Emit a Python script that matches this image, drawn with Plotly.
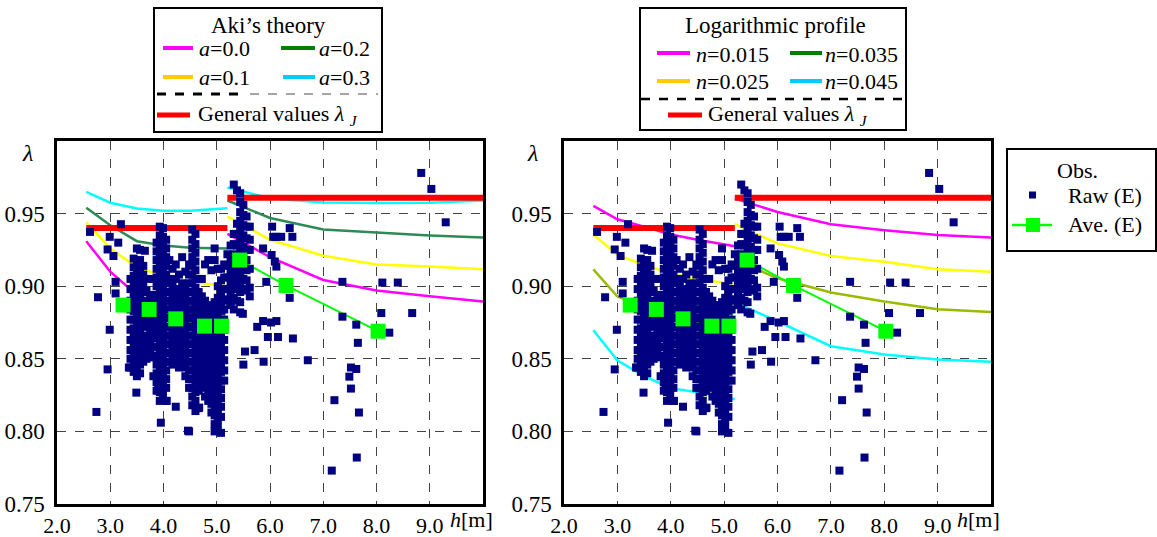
import plotly.graph_objects as go

W, H = 1157, 537
FONT = "serif"

# ---------------- theory curves (two branches each) ----------------
h_seg1 = [2.55, 3.0, 3.5, 4.0, 4.5, 5.2]
h_seg2 = [5.2, 6.0, 7.0, 8.0, 9.0, 10.0]

# Aki's theory
aki_a00_s1 = [0.931, 0.910, 0.894, 0.886, 0.881, 0.878]
aki_a00_s2 = [0.936, 0.920, 0.9043, 0.897, 0.893, 0.8895]
aki_a01_s1 = [0.944, 0.926, 0.913, 0.907, 0.903, 0.900]
aki_a01_s2 = [0.948, 0.932, 0.921, 0.915, 0.9135, 0.9116]
aki_a02_s1 = [0.954, 0.942, 0.931, 0.928, 0.9265, 0.926]
aki_a02_s2 = [0.959, 0.947, 0.939, 0.937, 0.935, 0.9336]
aki_a03_s1 = [0.965, 0.9575, 0.9535, 0.952, 0.952, 0.9537]
aki_a03_s2 = [0.968, 0.9605, 0.9577, 0.9573, 0.9575, 0.9591]

# Logarithmic profile
log_n015_s1 = [0.9553, 0.9461, 0.941, 0.9356, 0.932, 0.9275]
log_n015_s2 = [0.9603, 0.9511, 0.9427, 0.9386, 0.9352, 0.9336]
log_n025_s1 = [0.9356, 0.9215, 0.9146, 0.9089, 0.9048, 0.9016]
log_n025_s2 = [0.9427, 0.9295, 0.9208, 0.9169, 0.9116, 0.910]
log_n035_s1 = [0.9116, 0.8929, 0.886, 0.8826, 0.8804, 0.878]
log_n035_s2 = [0.918, 0.9055, 0.8957, 0.8895, 0.8842, 0.8822]
log_n045_s1 = [0.8696, 0.849, 0.838, 0.8298, 0.827, 0.8221]
log_n045_s2 = [0.889, 0.8758, 0.8587, 0.853, 0.8495, 0.8479]

# General values lambda_J
gen_h_s1 = [2.55, 5.2]
gen_lam_s1 = [0.940, 0.940]
gen_h_s2 = [5.2, 10.0]
gen_lam_s2 = [0.961, 0.961]

# ---------------- observations ----------------
ave_h = [3.24, 3.73, 4.23, 4.77, 5.09, 5.43, 6.30, 8.03]
ave_lam = [0.887, 0.884, 0.8775, 0.8725, 0.8725, 0.918, 0.9005, 0.869]

# dense raw observations, read column by column: (h, [lambda, ...])
raw_columns = [
    (3.38, [0.905, 0.898, 0.890, 0.884, 0.877, 0.870, 0.863, 0.856, 0.850, 0.844]),
    (3.44, [0.919, 0.913, 0.907, 0.901, 0.895, 0.889, 0.883, 0.877, 0.871, 0.865, 0.859, 0.853, 0.847, 0.841]),
    (3.50, [0.926, 0.916, 0.910, 0.904, 0.898, 0.892, 0.886, 0.880, 0.874, 0.868, 0.862, 0.856, 0.850, 0.844, 0.838]),
    (3.56, [0.925, 0.918, 0.912, 0.906, 0.900, 0.894, 0.888, 0.882, 0.876, 0.870, 0.864, 0.858, 0.852, 0.846, 0.840]),
    (3.62, [0.914, 0.908, 0.902, 0.896, 0.890, 0.884, 0.878, 0.872, 0.866, 0.860, 0.854, 0.848]),
    (3.68, [0.905, 0.897, 0.889, 0.881, 0.873, 0.865, 0.857, 0.850]),
    (3.75, [0.894, 0.886, 0.878, 0.870, 0.862, 0.854]),
    (3.81, [0.905, 0.890, 0.882, 0.874, 0.866, 0.858, 0.851, 0.838]),
    (3.87, [0.930, 0.924, 0.918, 0.912, 0.906, 0.900, 0.894, 0.888, 0.882, 0.876, 0.870, 0.864, 0.858, 0.852, 0.846, 0.840, 0.834, 0.828]),
    (3.93, [0.941, 0.935, 0.929, 0.923, 0.917, 0.911, 0.905, 0.899, 0.893, 0.887, 0.881, 0.875, 0.869, 0.863, 0.857, 0.851, 0.845, 0.839, 0.833, 0.827, 0.821]),
    (3.99, [0.940, 0.934, 0.928, 0.922, 0.916, 0.910, 0.904, 0.898, 0.892, 0.886, 0.880, 0.874, 0.868, 0.862, 0.856, 0.850, 0.844, 0.838, 0.832, 0.826]),
    (4.05, [0.932, 0.926, 0.920, 0.914, 0.908, 0.902, 0.896, 0.890, 0.884, 0.878, 0.872, 0.866, 0.860, 0.854, 0.848, 0.842, 0.836, 0.830, 0.821]),
    (4.11, [0.918, 0.905, 0.896, 0.890, 0.884, 0.878, 0.872, 0.866, 0.860, 0.854, 0.848]),
    (4.17, [0.912, 0.900, 0.894, 0.888, 0.882, 0.876, 0.870, 0.864, 0.858, 0.852, 0.846]),
    (4.23, [0.915, 0.905, 0.897, 0.891, 0.885, 0.879, 0.873, 0.867, 0.861, 0.855, 0.849, 0.817]),
    (4.29, [0.908, 0.898, 0.892, 0.886, 0.880, 0.874, 0.868, 0.862, 0.856, 0.850, 0.844]),
    (4.35, [0.920, 0.902, 0.895, 0.889, 0.883, 0.877, 0.871, 0.865, 0.859, 0.853, 0.847]),
    (4.41, [0.910, 0.899, 0.892, 0.886, 0.880, 0.874, 0.868, 0.862, 0.856, 0.850, 0.844, 0.838]),
    (4.48, [0.915, 0.908, 0.902, 0.896, 0.890, 0.884, 0.878, 0.872, 0.866, 0.860, 0.854, 0.848, 0.842, 0.836, 0.830, 0.800]),
    (4.54, [0.939, 0.932, 0.926, 0.920, 0.914, 0.908, 0.902, 0.896, 0.890, 0.884, 0.878, 0.872, 0.866, 0.860, 0.854, 0.848, 0.842, 0.836, 0.830, 0.824, 0.818]),
    (4.60, [0.936, 0.929, 0.923, 0.917, 0.911, 0.905, 0.899, 0.893, 0.887, 0.881, 0.875, 0.869, 0.863, 0.857, 0.851, 0.845, 0.839, 0.833, 0.827, 0.821, 0.814]),
    (4.66, [0.905, 0.896, 0.889, 0.882, 0.876, 0.870, 0.864, 0.858, 0.852, 0.846, 0.840, 0.834, 0.828, 0.816]),
    (4.72, [0.905, 0.893, 0.886, 0.880, 0.874, 0.868, 0.862, 0.856, 0.850, 0.844, 0.838, 0.832]),
    (4.78, [0.915, 0.890, 0.884, 0.878, 0.872, 0.866, 0.860, 0.854, 0.848, 0.842, 0.836, 0.830, 0.824]),
    (4.84, [0.918, 0.887, 0.881, 0.875, 0.869, 0.863, 0.857, 0.851, 0.845, 0.839, 0.833, 0.827, 0.821]),
    (4.90, [0.911, 0.885, 0.879, 0.873, 0.867, 0.861, 0.855, 0.849, 0.843, 0.837, 0.831, 0.825, 0.819, 0.813]),
    (4.96, [0.926, 0.918, 0.889, 0.883, 0.877, 0.871, 0.865, 0.859, 0.853, 0.847, 0.841, 0.835, 0.829, 0.823, 0.817, 0.811, 0.805, 0.800]),
    (5.02, [0.912, 0.900, 0.892, 0.886, 0.880, 0.874, 0.868, 0.862, 0.856, 0.850, 0.844, 0.838, 0.832, 0.826, 0.820, 0.814, 0.808, 0.803]),
    (5.08, [0.912, 0.904, 0.896, 0.889, 0.883, 0.877, 0.871, 0.865, 0.859, 0.853, 0.847, 0.841, 0.835, 0.829, 0.823, 0.817, 0.810, 0.799]),
    (5.14, [0.915, 0.906, 0.898, 0.891, 0.884, 0.877, 0.870, 0.863, 0.856, 0.849, 0.842, 0.835]),
    (5.20, [0.922, 0.914, 0.906, 0.898, 0.890]),
    (5.26, [0.928, 0.919, 0.911, 0.903, 0.895, 0.887]),
    (5.32, [0.970, 0.936, 0.929, 0.922, 0.915, 0.908, 0.900, 0.892, 0.884]),
    (5.38, [0.966, 0.943, 0.936, 0.928, 0.920, 0.912, 0.905, 0.898, 0.890]),
    (5.44, [0.964, 0.958, 0.951, 0.945, 0.938, 0.931, 0.924, 0.917, 0.910, 0.903, 0.896, 0.889, 0.882]),
    (5.50, [0.956, 0.949, 0.942, 0.935, 0.927, 0.920, 0.912, 0.905, 0.898]),
    (5.56, [0.948, 0.941, 0.933, 0.925, 0.918, 0.911, 0.904, 0.897]),
    (5.62, [0.941, 0.932, 0.925, 0.912, 0.899, 0.893]),
]

# isolated raw observations
raw_sparse = [
    (3.20, 0.9427), (2.62, 0.9374), (2.99, 0.934), (3.15, 0.930), (2.95, 0.9253),
    (3.06, 0.9208), (3.65, 0.9244), (3.10, 0.903), (3.10, 0.895),
    (2.77, 0.8924), (2.99, 0.870), (2.95, 0.8427), (3.35, 0.844), (3.49, 0.8267),
    (2.74, 0.8134), (3.95, 0.806), (3.90, 0.830), (4.06, 0.821), (4.46, 0.8005),
    (4.67, 0.8164), (5.49, 0.881), (5.53, 0.855), (5.71, 0.856), (5.50, 0.846),
    (5.88, 0.848), (5.76, 0.872), (5.87, 0.876),
    (5.87, 0.926), (6.04, 0.941), (6.12, 0.934), (6.21, 0.934), (6.37, 0.940),
    (6.42, 0.934), (6.06, 0.934), (6.03, 0.9215), (6.12, 0.9135), (6.09, 0.917),
    (5.93, 0.903), (6.37, 0.892), (7.36, 0.903), (8.11, 0.9025), (8.40, 0.9025),
    (8.09, 0.8815), (8.67, 0.8815), (7.36, 0.879), (7.62, 0.8735), (8.24, 0.868),
    (7.65, 0.861), (6.71, 0.849), (6.43, 0.864), (6.15, 0.865), (5.96, 0.865),
    (6.12, 0.876), (6.02, 0.875), (7.52, 0.844), (7.62, 0.843),
    (7.49, 0.8377), (7.52, 0.8295), (7.21, 0.8215), (7.67, 0.813), (7.16, 0.773),
    (7.63, 0.782), (8.84, 0.978), (9.03, 0.967), (9.30, 0.944),
]

raw_h = [h for h, lams in raw_columns for _ in lams] + [p[0] for p in raw_sparse]
raw_lam = [l for _, lams in raw_columns for l in lams] + [p[1] for p in raw_sparse]

# ---------------- figure ----------------
fig = go.Figure()

left_curves = [
    (aki_a00_s1, aki_a00_s2, "#ff00ff"),
    (aki_a01_s1, aki_a01_s2, "#ffff00"),
    (aki_a02_s1, aki_a02_s2, "#2e8b57"),
    (aki_a03_s1, aki_a03_s2, "#00ffff"),
]
right_curves = [
    (log_n015_s1, log_n015_s2, "#ff00ff"),
    (log_n025_s1, log_n025_s2, "#ffff00"),
    (log_n035_s1, log_n035_s2, "#99bb00"),
    (log_n045_s1, log_n045_s2, "#00ffff"),
]

for curves, xa, ya in [(left_curves, "x", "y"), (right_curves, "x2", "y2")]:
    for s1, s2, col in curves:
        for hh, ll in [(h_seg1, s1), (h_seg2, s2)]:
            fig.add_trace(go.Scatter(x=hh, y=ll, mode="lines", xaxis=xa, yaxis=ya,
                                     line=dict(color=col, width=2.5), showlegend=False,
                                     hoverinfo="skip"))
    for hh, ll in [(gen_h_s1, gen_lam_s1), (gen_h_s2, gen_lam_s2)]:
        fig.add_trace(go.Scatter(x=hh, y=ll, mode="lines", xaxis=xa, yaxis=ya,
                                 line=dict(color="#ff0000", width=6), showlegend=False))
    # averaged line sits beneath the raw points, its markers above them
    fig.add_trace(go.Scatter(x=ave_h, y=ave_lam, mode="lines", xaxis=xa, yaxis=ya,
                             line=dict(color="#00ff00", width=2), showlegend=False))
    fig.add_trace(go.Scatter(x=raw_h, y=raw_lam, mode="markers", xaxis=xa, yaxis=ya,
                             marker=dict(symbol="square", size=8, color="#000080",
                                         line=dict(width=0)), showlegend=False))
    fig.add_trace(go.Scatter(x=ave_h, y=ave_lam, mode="markers", xaxis=xa, yaxis=ya,
                             marker=dict(symbol="square", size=15, color="#00ff00",
                                         line=dict(width=0)), showlegend=False))


def X(px):
    return px / W


def Y(py):
    return 1 - py / H


axis_common = dict(showline=True, mirror=True, linecolor="black", linewidth=2.5,
                   showgrid=True, gridcolor="#444444", griddash="dash", gridwidth=1,
                   zeroline=False, ticks="", automargin=False)

xt = [2, 3, 4, 5, 6, 7, 8, 9]
xtt = ["2.0", "3.0", "4.0", "5.0", "6.0", "7.0", "8.0", "9.0"]
yt = [0.75, 0.80, 0.85, 0.90, 0.95]
ytt = ["0.75", "0.80", "0.85", "0.90", "0.95"]
xfont = dict(family=FONT, size=22, color="black")
yfont = dict(family=FONT, size=23, color="black")

fig.update_layout(
    width=W, height=H, margin=dict(l=0, r=0, t=0, b=0, autoexpand=False),
    paper_bgcolor="white", plot_bgcolor="white", showlegend=False,
    font=dict(family=FONT, color="black"),
    xaxis=dict(domain=[X(57), X(483)], range=[2, 10], tickvals=xt, ticktext=xtt,
               anchor="y", ticklabelstandoff=0, tickfont=xfont, **axis_common),
    yaxis=dict(domain=[Y(504), Y(141)], range=[0.75, 1.0], tickvals=yt, ticktext=ytt,
               anchor="x", ticklabelstandoff=5, tickfont=yfont, **axis_common),
    xaxis2=dict(domain=[X(564), X(991)], range=[2, 10], tickvals=xt, ticktext=xtt,
                anchor="y2", ticklabelstandoff=0, tickfont=xfont, **axis_common),
    yaxis2=dict(domain=[Y(504), Y(141)], range=[0.75, 1.0], tickvals=yt, ticktext=ytt,
                anchor="x2", ticklabelstandoff=5, tickfont=yfont, **axis_common),
)

shapes = []
annots = []


def txt(x, y, s, size=22, anchor="left"):
    annots.append(dict(x=X(x), y=Y(y), xref="paper", yref="paper", text=s, showarrow=False,
                       xanchor=anchor, yanchor="middle",
                       font=dict(family=FONT, size=size, color="black")))


def seg(x0, x1, y, col, w, dash="solid"):
    shapes.append(dict(type="line", xref="paper", yref="paper", x0=X(x0), x1=X(x1),
                       y0=Y(y), y1=Y(y), line=dict(color=col, width=w, dash=dash)))


def box(x0, y0, x1, y1):
    shapes.append(dict(type="rect", xref="paper", yref="paper", x0=X(x0), x1=X(x1),
                       y0=Y(y1), y1=Y(y0), line=dict(color="black", width=2),
                       fillcolor="white", layer="above"))


# axis titles
txt(27, 153, "<i>λ</i>", 24, "center")
txt(532, 153, "<i>λ</i>", 24, "center")
txt(471, 519, "<i>h</i>[m]", 22, "center")
txt(978, 519, "<i>h</i>[m]", 22, "center")

# Aki legend
box(154, 8, 382, 132)
txt(268, 25, "Aki’s theory", 23, "center")
seg(163, 193, 48, "#ff00ff", 4)
txt(197, 49, "<i>a</i>=0.0")
seg(281, 315, 48, "#008000", 4)
txt(317, 49, "<i>a</i>=0.2")
seg(163, 193, 77, "#ffcc00", 4)
txt(197, 77, "<i>a</i>=0.1")
seg(283, 315, 77, "#00ccff", 4)
txt(317, 77, "<i>a</i>=0.3")
seg(157, 247, 94, "black", 3, "dash")
seg(250, 378, 94, "#888888", 1.5, "dash")
seg(157, 190, 115, "#ff0000", 5)
txt(196, 115, "General values <i>λ</i> <sub><i>J</i></sub>")

# Logarithmic legend
box(640, 8, 906, 130)
txt(775, 25, "Logarithmic profile", 23, "center")
seg(657, 690, 53, "#ff00ff", 4)
txt(694, 54, "<i>n</i>=0.015")
seg(790, 822, 53, "#008000", 4)
txt(823, 54, "<i>n</i>=0.035")
seg(657, 690, 81, "#ffcc00", 4)
txt(694, 81, "<i>n</i>=0.025")
seg(790, 822, 81, "#00ccff", 4)
txt(823, 81, "<i>n</i>=0.045")
seg(641, 905, 99, "black", 2.5, "dash")
seg(668, 702, 115, "#ff0000", 5)
txt(706, 115, "General values <i>λ</i> <sub><i>J</i></sub>")

# Obs legend
box(1007, 149, 1156, 251)
txt(1077, 171, "Obs.", 22, "center")
shapes.append(dict(type="rect", xref="paper", yref="paper", x0=X(1029), x1=X(1036),
                   y0=Y(198.5), y1=Y(191.5), line=dict(width=0), fillcolor="#000080"))
txt(1066, 195, "Raw (E)")
seg(1012, 1052, 225, "#00ff00", 2.5)
shapes.append(dict(type="rect", xref="paper", yref="paper", x0=X(1026), x1=X(1040),
                   y0=Y(232), y1=Y(218), line=dict(width=0), fillcolor="#00ff00"))
txt(1066, 225, "Ave. (E)")

fig.update_layout(shapes=shapes, annotations=annots)
fig.write_html("out.html", config={"displayModeBar": False},
               post_script="document.body.style.margin='0px';")
